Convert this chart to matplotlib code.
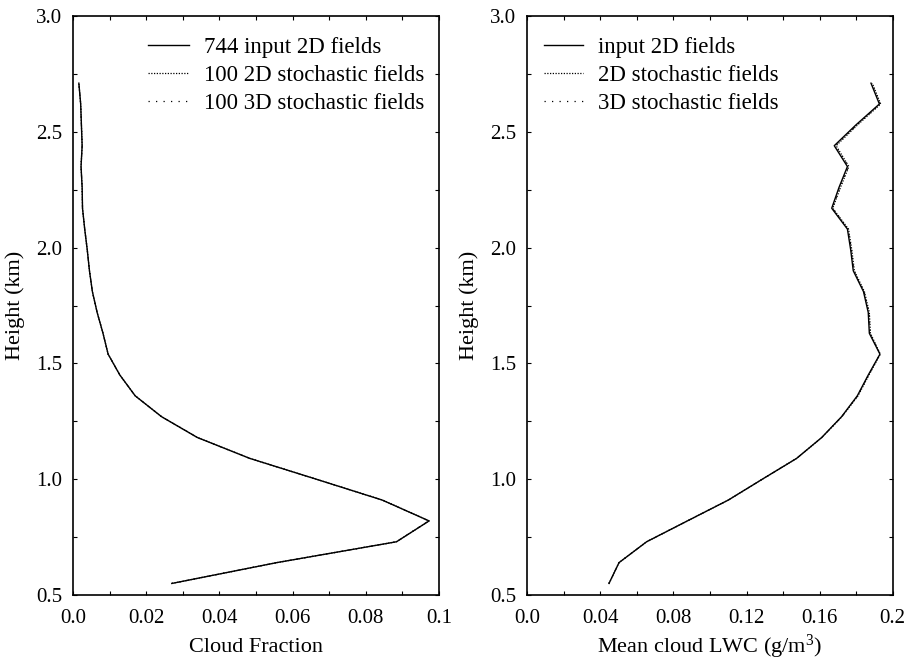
import numpy as np
import matplotlib
matplotlib.use("Agg")
import matplotlib.pyplot as plt
from matplotlib.ticker import MultipleLocator, FixedLocator, FixedFormatter

plt.rcParams['font.family'] = ['Liberation Serif', 'DejaVu Serif']
plt.rcParams['mathtext.fontset'] = 'custom'
plt.rcParams['mathtext.rm'] = 'Liberation Serif'
plt.rcParams['mathtext.it'] = 'Liberation Serif:italic'

# model levels (km)
height = [0.55, 0.64, 0.73, 0.82, 0.91, 1.00, 1.09, 1.18, 1.27, 1.36, 1.45, 1.54, 1.63,
          1.72, 1.81, 1.90, 1.99, 2.08, 2.17, 2.26, 2.35, 2.44, 2.53, 2.62, 2.71]

# cloud fraction profiles
cf_input = [0.0270, 0.0557, 0.0884, 0.0973, 0.0845, 0.0665, 0.0483, 0.0340, 0.0242, 0.0170,
            0.0128, 0.0096, 0.0082, 0.0066, 0.0053, 0.0045, 0.0039, 0.0032, 0.0026, 0.0025,
            0.0022, 0.0025, 0.0023, 0.0021, 0.0016]
cf_2d = [0.0270, 0.0557, 0.0884, 0.0973, 0.0846, 0.0665, 0.0483, 0.0340, 0.0242, 0.0170,
         0.0128, 0.0096, 0.0082, 0.0066, 0.0053, 0.0045, 0.0039, 0.0032, 0.0026, 0.0025,
         0.0022, 0.0025, 0.0023, 0.0021, 0.0016]
cf_3d = [0.0270, 0.0557, 0.0884, 0.0972, 0.0845, 0.0665, 0.0483, 0.0340, 0.0242, 0.0170,
         0.0128, 0.0096, 0.0082, 0.0066, 0.0053, 0.0045, 0.0039, 0.0032, 0.0026, 0.0025,
         0.0022, 0.0025, 0.0023, 0.0021, 0.0016]

# mean cloud liquid water content (g/m3)
lwc_input = [0.0447, 0.0502, 0.0653, 0.0876, 0.1100, 0.1286, 0.1474, 0.1611, 0.1720, 0.1806,
             0.1866, 0.1930, 0.1872, 0.1866, 0.1840, 0.1784, 0.1770, 0.1752, 0.1666, 0.1706,
             0.1752, 0.1680, 0.1799, 0.1927, 0.1881]
lwc_2d = [0.0447, 0.0502, 0.0653, 0.0876, 0.1100, 0.1286, 0.1474, 0.1612, 0.1722, 0.1810,
          0.1870, 0.1932, 0.1878, 0.1872, 0.1845, 0.1790, 0.1776, 0.1758, 0.1672, 0.1714,
          0.1760, 0.1690, 0.1808, 0.1934, 0.1888]
lwc_3d = [0.0447, 0.0502, 0.0653, 0.0876, 0.1100, 0.1286, 0.1474, 0.1612, 0.1721, 0.1808,
          0.1868, 0.1931, 0.1876, 0.1870, 0.1843, 0.1788, 0.1774, 0.1756, 0.1670, 0.1712,
          0.1758, 0.1686, 0.1804, 0.1931, 0.1885]

y_ticks = [0.5, 1.0, 1.5, 2.0, 2.5, 3.0]
y_labels = ["0.5", "1.0", "1.5", "2.0", "2.5", "3.0"]
cf_ticks = [0.0, 0.02, 0.04, 0.06, 0.08, 0.1]
cf_labels = ["0.0", "0.02", "0.04", "0.06", "0.08", "0.1"]
lwc_ticks = [0.0, 0.04, 0.08, 0.12, 0.16, 0.2]
lwc_labels = ["0.0", "0.04", "0.08", "0.12", "0.16", "0.2"]


def style_axis(ax, xticks, xlabels, xminor, xlabel):
    ax.set_ylim(0.5, 3.0)
    ax.set_xlim(xticks[0], xticks[-1])
    ax.xaxis.set_major_locator(FixedLocator(xticks))
    ax.xaxis.set_major_formatter(FixedFormatter(xlabels))
    ax.xaxis.set_minor_locator(MultipleLocator(xminor))
    ax.yaxis.set_major_locator(FixedLocator(y_ticks))
    ax.yaxis.set_major_formatter(FixedFormatter(y_labels))
    ax.yaxis.set_minor_locator(MultipleLocator(0.25))
    ax.tick_params(which='both', direction='in', top=True, right=True,
                   length=3, width=0.8, labelsize=15)
    ax.tick_params(axis='x', pad=10)
    ax.tick_params(axis='y', pad=8)
    for s in ax.spines.values():
        s.set_linewidth(1.2)
    ax.set_xlabel(xlabel, fontsize=16, va='baseline')
    ax.xaxis.set_label_coords(0.5, -0.099)
    ax.set_ylabel("Height (km)", fontsize=16, labelpad=8)


fig = plt.figure(figsize=(9.09, 6.61), dpi=100)
ax1 = fig.add_axes([0.0803, 0.0998, 0.4026, 0.876])
ax2 = fig.add_axes([0.5801, 0.0998, 0.4020, 0.876])

lw = 1.0
ax1.plot(cf_input, height, color='black', lw=lw, label="744 input 2D fields")
ax1.plot(cf_2d, height, color='black', lw=0.9, ls=(0, (1, 1.2)), label="100 2D stochastic fields")
ax1.plot(cf_3d, height, color='black', lw=0.9, ls=(0, (1, 5)), label="100 3D stochastic fields")
style_axis(ax1, cf_ticks, cf_labels, 0.01, "Cloud Fraction")

ax2.plot(lwc_input, height, color='black', lw=lw, label="input 2D fields")
ax2.plot(lwc_2d, height, color='black', lw=0.9, ls=(0, (1, 1.2)), label="2D stochastic fields")
ax2.plot(lwc_3d, height, color='black', lw=0.9, ls=(0, (1, 5)), label="3D stochastic fields")
style_axis(ax2, lwc_ticks, lwc_labels, 0.02, "Mean cloud LWC (g/m$^3$)")

leg1 = ax1.legend(loc='upper left', bbox_to_anchor=(0.167, 0.988), frameon=False,
                  fontsize=16.5, handlelength=1.8, handletextpad=0.65, labelspacing=0.3,
                  borderaxespad=0.2)
leg2 = ax2.legend(loc='upper left', bbox_to_anchor=(0.009, 0.988), frameon=False,
                  fontsize=16.5, handlelength=1.7, handletextpad=0.65, labelspacing=0.3,
                  borderaxespad=0.2)

fig.savefig("out.png", dpi=100)
